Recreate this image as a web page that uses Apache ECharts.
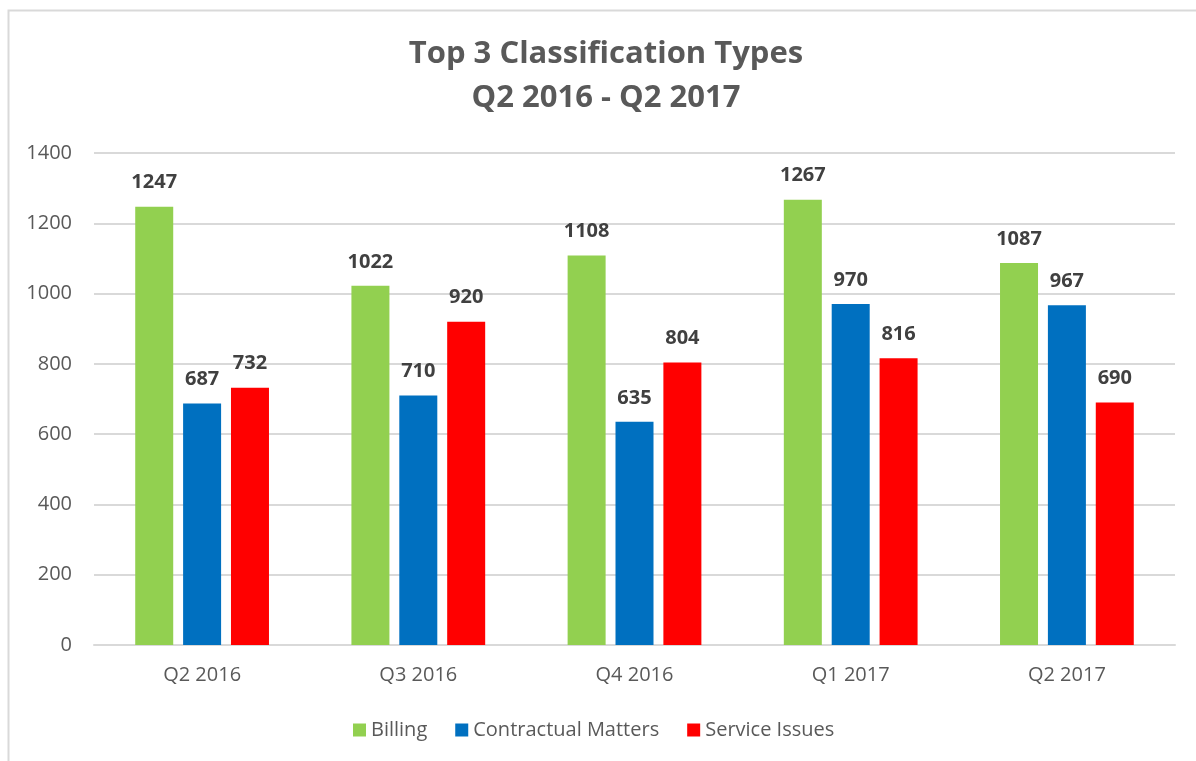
<!DOCTYPE html>
<html><head><meta charset="utf-8">
<script src="https://cdn.jsdelivr.net/npm/echarts@6/dist/echarts.min.js"></script>
<style>html,body{margin:0;padding:0;background:#fff}#c{width:1196px;height:761px}</style>
</head><body><div id="c"></div>
<script>
const categories = ['Q2 2016','Q3 2016','Q4 2016','Q1 2017','Q2 2017'];
const billing = [1247,1022,1108,1267,1087];
const contractual = [687,710,635,970,967];
const service = [732,920,804,816,690];
const seriesNames = ['Billing','Contractual Matters','Service Issues'];
const yTicks = [0,200,400,600,800,1000,1200,1400];

const font = '"Open Sans", "Liberation Sans", sans-serif';
const chart = echarts.init(document.getElementById('c'));
const lbl = {show:true, position:'top', distance:14, color:'#404040', fontWeight:'bold', fontSize:20, fontFamily:font};
function mk(name, data, color){
  return {name, type:'bar', data, barWidth:38, barGap:'26%', itemStyle:{color}, label:lbl};
}
chart.setOption({
  animation:false,
  textStyle:{fontFamily:font},
  title:{text:'Top 3 Classification Types\nQ2 2016 - Q2 2017', left:601, textAlign:'center', top:27,
    textStyle:{fontSize:31, fontWeight:'bold', color:'#595959', lineHeight:44, fontFamily:font}},
  legend:{data:seriesNames, bottom:16, left:348, itemWidth:13, itemHeight:13, itemGap:28,
    icon:'rect', textStyle:{fontSize:20, color:'#595959', fontFamily:font}},
  grid:{left:94, right:21, top:153, bottom:116, containLabel:false},
  xAxis:{type:'category', data:categories,
    axisLine:{lineStyle:{color:'#d9d9d9', width:2}}, axisTick:{show:false},
    axisLabel:{fontSize:20, color:'#595959', margin:20, fontFamily:font}},
  yAxis:{type:'value', min:yTicks[0], max:yTicks[yTicks.length-1], interval:200,
    axisLine:{show:false}, axisTick:{show:false},
    splitLine:{lineStyle:{color:'#d9d9d9', width:2}},
    axisLabel:{fontSize:20, color:'#595959', margin:22, fontFamily:font, formatter:v=>String(v)}},
  graphic:[{type:'rect', left:6, top:8, shape:{width:1200, height:760},
    style:{fill:'none', stroke:'#d9d9d9', lineWidth:2}, silent:true}],
  series:[mk(seriesNames[0], billing, '#92d050'), mk(seriesNames[1], contractual, '#0070c0'), mk(seriesNames[2], service, '#ff0000')]
});
</script></body></html>
